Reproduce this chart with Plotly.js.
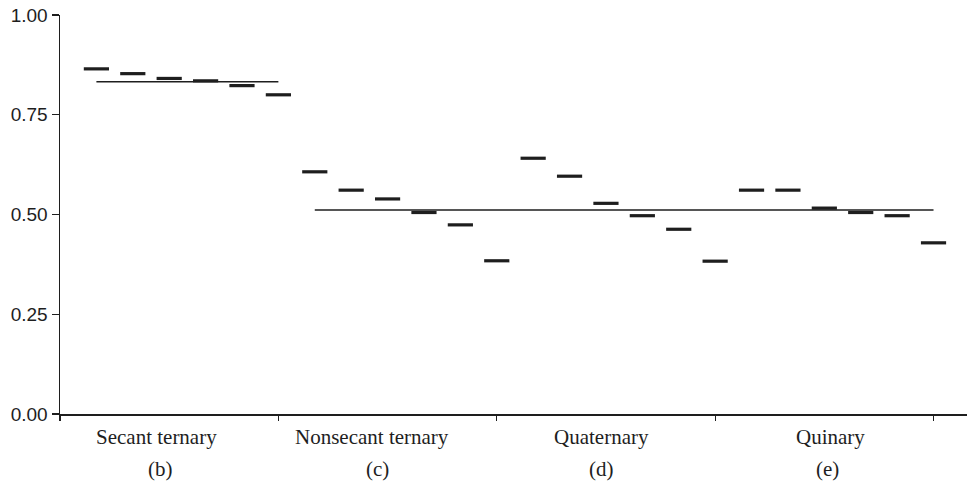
<!DOCTYPE html>
<html>
<head>
<meta charset="utf-8">
<script src="https://cdn.plot.ly/plotly-3.0.1.min.js"></script>
<style>html,body{margin:0;padding:0;background:#fff;}#chart{width:967px;height:481px;}</style>
</head>
<body>
<div id="chart"></div>
<script>
// Data
const groupNames = ['Secant ternary', 'Nonsecant ternary', 'Quaternary', 'Quinary'];
const groupTags = ['(b)', '(c)', '(d)', '(e)'];
const secantTernary = [0.865, 0.853, 0.841, 0.835, 0.823, 0.800];
const nonsecantTernary = [0.607, 0.561, 0.539, 0.505, 0.474, 0.384];
const quaternary = [0.641, 0.596, 0.528, 0.497, 0.463, 0.383];
const quinary = [0.561, 0.561, 0.516, 0.505, 0.497, 0.429];
const meanSecant = 0.833;
const meanOthers = 0.511;
const yTickVals = [0, 0.25, 0.5, 0.75, 1.0];
const yTickText = ['0.00', '0.25', '0.50', '0.75', '1.00'];

const groups = [secantTernary, nonsecantTernary, quaternary, quinary];
const n = 6;
const xs = [], ys = [];
groups.forEach((g, gi) => g.forEach((v, i) => { xs.push(gi * n + i + 1); ys.push(v); }));

const ink = '#1e1e1e';
const traces = [
  {
    x: xs, y: ys, type: 'scatter', mode: 'markers',
    marker: {symbol: 'line-ew', size: 18, color: ink, line: {color: ink, width: 3.2}},
    hoverinfo: 'y', showlegend: false
  },
  {
    x: [1, n], y: [meanSecant, meanSecant], type: 'scatter', mode: 'lines',
    line: {color: ink, width: 1.5}, showlegend: false, hoverinfo: 'skip'
  },
  {
    x: [n + 1, 4 * n], y: [meanOthers, meanOthers], type: 'scatter', mode: 'lines',
    line: {color: ink, width: 1.5}, showlegend: false, hoverinfo: 'skip'
  }
];

const labelX = [2.64, 8.57, 14.89, 21.18];
const tagX = [2.75, 8.71, 14.89, 21.1];
const annotations = [];
groupNames.forEach((name, i) => {
  annotations.push({
    x: labelX[i], xref: 'x', y: -0.058, yref: 'paper', yanchor: 'middle',
    text: name, showarrow: false,
    font: {family: '"Liberation Serif", "Times New Roman", serif', size: 21, color: ink}
  });
  annotations.push({
    x: tagX[i], xref: 'x', y: -0.138, yref: 'paper', yanchor: 'middle',
    text: groupTags[i], showarrow: false,
    font: {family: '"Liberation Serif", "Times New Roman", serif', size: 21, color: ink}
  });
});

const layout = {
  width: 967, height: 481,
  margin: {l: 60, r: 0, t: 15, b: 67, pad: 0},
  paper_bgcolor: '#fff', plot_bgcolor: '#fff',
  showlegend: false,
  xaxis: {
    range: [0, 24.92], showgrid: false, zeroline: false,
    showline: true, linecolor: ink, linewidth: 1.5,
    tickmode: 'array', tickvals: [0, 6, 12, 18, 24], ticktext: ['', '', '', '', ''],
    ticks: 'outside', ticklen: 5, tickwidth: 1.2, tickcolor: ink
  },
  yaxis: {
    range: [0, 1.0], showgrid: false, zeroline: false,
    showline: true, linecolor: ink, linewidth: 1.5,
    tickmode: 'array', tickvals: yTickVals, ticktext: yTickText,
    ticks: 'outside', ticklen: 7, tickwidth: 1.2, tickcolor: ink,
    tickfont: {family: '"Liberation Sans", Arial, sans-serif', size: 19, color: ink}
  },
  annotations: annotations
};

Plotly.newPlot('chart', traces, layout, {displayModeBar: false, staticPlot: true});
</script>
</body>
</html>
